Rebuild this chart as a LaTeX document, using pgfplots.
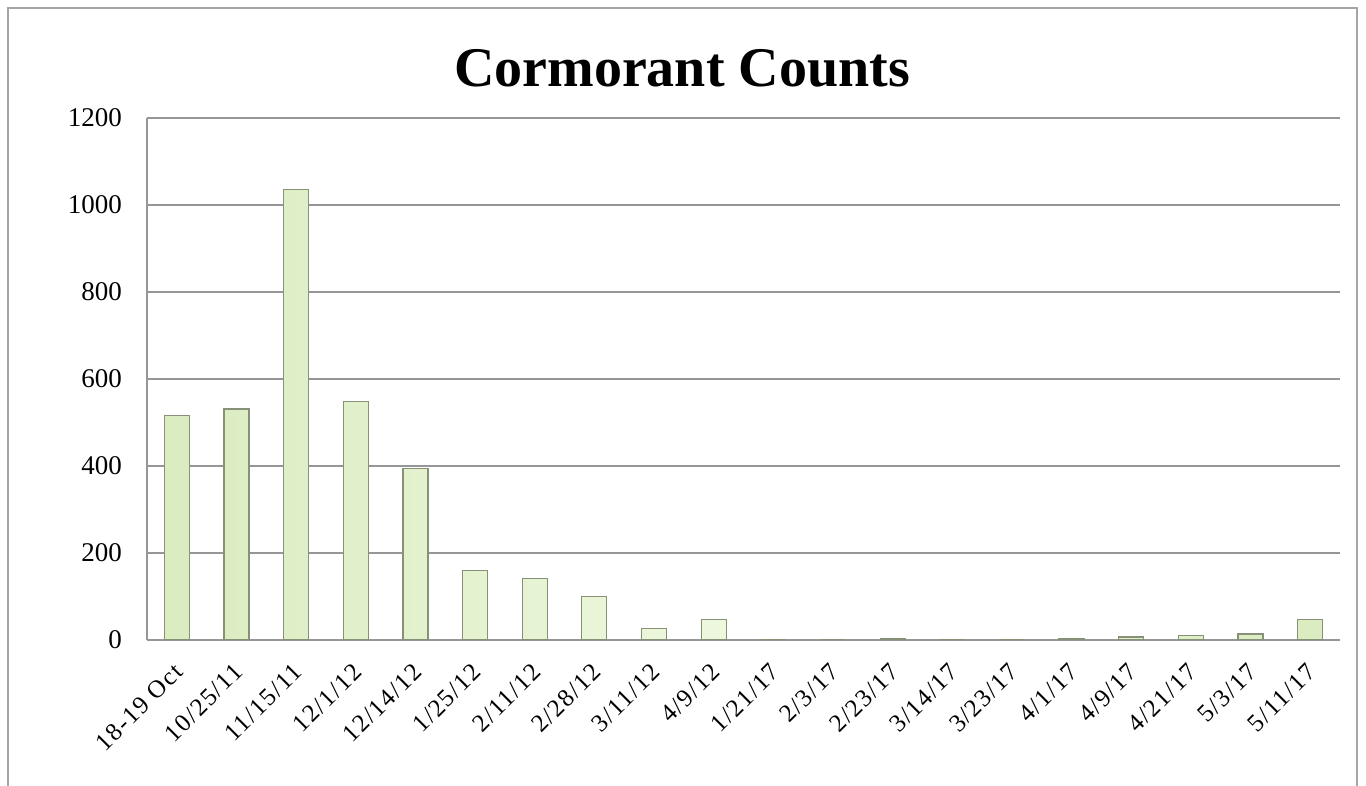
\documentclass[border=0pt]{standalone}
\usepackage{fontspec}
\setmainfont{Liberation Serif}
\usepackage{pgfplots}
\pgfplotsset{compat=1.18}
\definecolor{barfill}{RGB}{218,236,192}
\definecolor{barlight}{RGB}{238,248,222}
\definecolor{baredge}{RGB}{135,145,120}
\definecolor{gridgray}{RGB}{150,150,150}
\definecolor{framegray}{RGB}{165,165,165}
\begin{document}
\begin{tikzpicture}
\useasboundingbox (0pt,0pt) rectangle (683pt,393pt);
% outer chart frame (bottom edge lies outside the crop)
\draw[framegray, line width=0.6pt] (4pt,0pt) -- (4pt,389pt) -- (678.5pt,389pt) -- (678.5pt,0pt);
\node[font=\fontsize{28}{33}\selectfont\bfseries] at (341pt,359pt) {Cormorant Counts};
\begin{axis}[
  at={(73.5pt,73pt)}, anchor=south west,
  width=596.5pt, height=261pt, scale only axis,
  ybar, bar width=12.5pt,
  ymin=0, ymax=1200, ytick={0,200,...,1200},
  xmin=-0.5, xmax=19.5,
  xtick={0,...,19},
  xticklabels={18-19 Oct,10/25/11,11/15/11,12/1/12,12/14/12,1/25/12,2/11/12,2/28/12,3/11/12,4/9/12,1/21/17,2/3/17,2/23/17,3/14/17,3/23/17,4/1/17,4/9/17,4/21/17,5/3/17,5/11/17},
  x tick label style={rotate=45, anchor=north east, font=\fontsize{12.5}{14}\selectfont\addfontfeatures{LetterSpace=6}, inner sep=0pt, xshift=-9pt, yshift=-6pt},
  y tick label style={font=\fontsize{13.5}{15}\selectfont, xshift=-9pt},
  /pgf/number format/assume math mode=true,
  /pgf/number format/1000 sep={},
  major tick length=0pt,
  ymajorgrids, grid style={gridgray, line width=1pt},
  axis x line=bottom, axis y line=left,
  axis line style={gridgray, line width=1pt, -},
]
\addplot[draw=baredge, line width=0.6pt, left color=barfill, right color=barfill, middle color=barlight]
  coordinates {(0,516) (1,531) (2,1036) (3,548) (4,395) (5,160) (6,141) (7,100) (8,27) (9,47)
               (10,0) (11,0) (12,4) (13,2) (14,0) (15,3) (16,7) (17,10) (18,14) (19,48)};
\end{axis}
\end{tikzpicture}
\end{document}
